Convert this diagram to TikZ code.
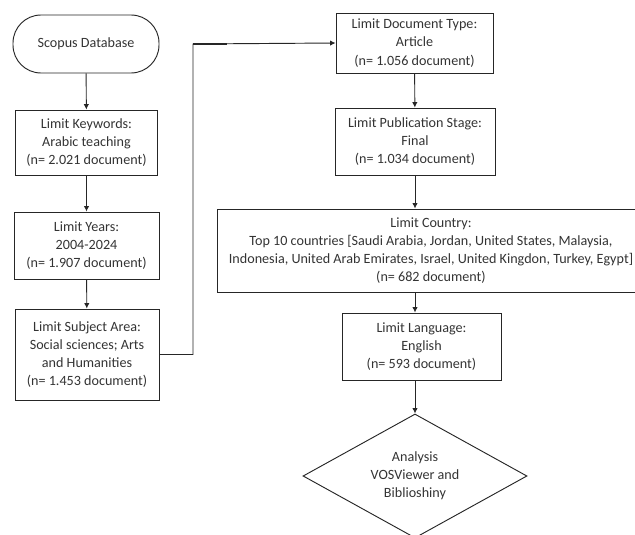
\documentclass[tikz,border=0pt]{standalone}
\usepackage{fontspec}
\setmainfont{Carlito}
\usepackage{tikz}
\usetikzlibrary{positioning}
\usetikzlibrary{shapes.geometric}
\usetikzlibrary{arrows.meta}
\begin{document}
\begin{tikzpicture}[
  x=0.75pt, y=-0.75pt,
  % every node/.style={font=\small},
  flowLine/.style={draw=black!85, line width=0.7pt},
]

\tikzset{
  stepBox/.style 2 args={
    draw=black!85, line width=0.7pt, rectangle,
    minimum width=#1, minimum height=#2,
    inner sep=0pt, align=center, text=black!80,
    font=\fontsize{10.6}{13.6}\selectfont
  },
  flowArrow/.style={flowLine, -{Latex[length=4pt,width=4pt]}}
}

\useasboundingbox (0,0) rectangle (635,535);

% --- Begin left column ---
\node [stepBox={109.5pt}{43.5pt}, rounded corners=21pt] (scopus) at (86,44) {Scopus Database};
\node [stepBox={107pt}{48.75pt}] (keywords) at (86.5,142.5)
  {Limit Keywords:\\Arabic teaching\\(n= 2.021 document)};
\node [stepBox={108.75pt}{50.25pt}] (years) at (86.5,245.5)
  {Limit Years:\\2004-2024\\(n= 1.907 document)};
\node [stepBox={108pt}{68.25pt}] (subject) at (87,354.5)
  {Limit Subject Area:\\Social sciences; Arts\\and Humanities\\(n= 1.453 document)};

% --- Begin right column ---
\node [stepBox={117.75pt}{45pt}] (docType) at (414.5,43)
  {Limit Document Type:\\Article\\(n= 1.056 document)};
\node [stepBox={120pt}{50.25pt}] (pubStage) at (415,141.5)
  {Limit Publication Stage:\\Final\\(n= 1.034 document)};
\node [stepBox={321pt}{62.25pt}] (country) at (431,250.5)
  {Limit Country:\\Top 10 countries [Saudi Arabia, Jordan, United States, Malaysia,\\Indonesia, United Arab Emirates, Israel, United Kingdon, Turkey, Egypt]\\(n= 682 document)};
\node [stepBox={119.25pt}{50.25pt}] (language) at (421.5,346.5)
  {Limit Language:\\English\\(n= 593 document)};
\node [stepBox={168pt}{93pt}, shape=diamond, aspect=1.8] (analysis) at (415,476)
  {Analysis\\VOSViewer and\\Biblioshiny};

\coordinate (turn) at (193,44);

\draw[flowArrow] (scopus) -- (keywords);
\draw[flowArrow] (keywords) -- (years);
\draw[flowArrow] (years) -- (subject);
\draw[flowArrow] (subject.east) -| (turn) -- (docType.west);
\draw[flowLine, line width=1.5pt] (turn) -- ++(34,0);
\draw[flowArrow] (docType) -- (pubStage);
\draw[flowArrow] (pubStage.south) -- (pubStage.south |- country.north);
\draw[flowArrow] (analysis.north |- country.south) -- (analysis.north |- language.north);
\draw[flowArrow] (analysis.north |- language.south) -- (analysis.north);

\end{tikzpicture}
\end{document}
